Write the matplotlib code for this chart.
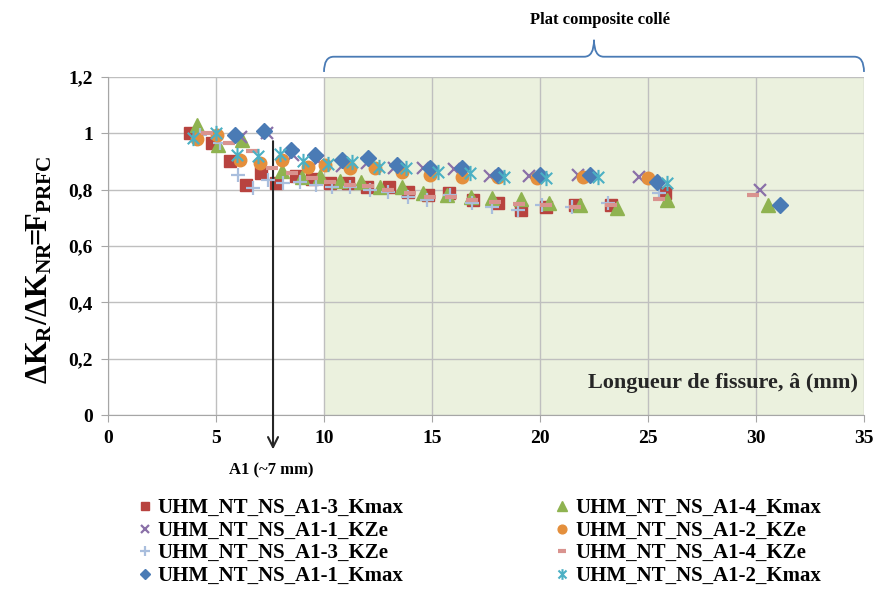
import numpy as np
import matplotlib
matplotlib.use('Agg')
import matplotlib.pyplot as plt
from matplotlib.path import Path
from matplotlib.patches import PathPatch
from matplotlib.ticker import FuncFormatter
import matplotlib.transforms as mtrans

plt.rcParams['font.family'] = 'Liberation Serif'
plt.rcParams['font.weight'] = 'bold'
plt.rcParams['mathtext.fontset'] = 'custom'
plt.rcParams['mathtext.rm'] = 'Liberation Serif:bold'
plt.rcParams['mathtext.bf'] = 'Liberation Serif:bold'
plt.rcParams['mathtext.it'] = 'Liberation Serif:bold'

#%% Series (crack length in mm, F_PRFC ratio)
a13_kmax_x = [3.8, 4.8, 5.65, 6.4, 7.1, 7.8, 8.7, 9.45, 10.3, 11.1, 12.0, 13.0, 13.9, 14.8, 15.8, 16.9, 18.05, 19.1, 20.3, 21.6, 23.3, 25.8]
a13_kmax_y = [1.0, 0.965, 0.9, 0.815, 0.86, 0.825, 0.85, 0.837, 0.823, 0.823, 0.81, 0.81, 0.79, 0.78, 0.787, 0.762, 0.752, 0.727, 0.74, 0.745, 0.745, 0.787]

a14_kmax_x = [4.1, 5.1, 6.2, 8.05, 9.0, 9.8, 10.75, 11.7, 12.6, 13.6, 14.6, 15.7, 16.8, 17.8, 19.1, 20.4, 21.85, 23.55, 25.9, 30.55]
a14_kmax_y = [1.03, 0.957, 0.975, 0.865, 0.845, 0.847, 0.83, 0.826, 0.81, 0.81, 0.787, 0.78, 0.773, 0.77, 0.766, 0.752, 0.745, 0.734, 0.762, 0.745]

a11_kze_x = [6.15, 7.35, 8.55, 9.7, 10.85, 12.0, 13.25, 14.6, 16.0, 17.7, 19.5, 21.75, 24.6, 30.2]
a11_kze_y = [0.986, 1.0, 0.922, 0.9, 0.883, 0.894, 0.876, 0.876, 0.872, 0.848, 0.848, 0.851, 0.844, 0.798]

a12_kze_x = [4.1, 5.05, 6.1, 7.05, 8.05, 9.25, 10.05, 11.2, 12.35, 13.6, 14.9, 16.4, 18.05, 19.85, 22.0, 25.0]
a12_kze_y = [0.98, 0.993, 0.904, 0.894, 0.904, 0.88, 0.887, 0.876, 0.876, 0.862, 0.851, 0.844, 0.844, 0.84, 0.844, 0.84]

a13_kze_x = [4.25, 5.2, 6.0, 6.7, 7.4, 8.1, 8.9, 9.65, 10.35, 11.2, 12.15, 12.95, 13.9, 14.75, 15.85, 16.85, 17.8, 19.0, 20.1, 21.5, 23.15, 25.5]
a13_kze_y = [0.993, 0.965, 0.851, 0.805, 0.833, 0.823, 0.826, 0.816, 0.809, 0.809, 0.798, 0.79, 0.773, 0.762, 0.78, 0.752, 0.738, 0.727, 0.745, 0.738, 0.752, 0.787]

a14_kze_x = [4.6, 5.6, 6.65, 7.6, 8.5, 9.45, 10.3, 11.2, 12.05, 12.95, 14.0, 14.9, 15.9, 16.85, 17.9, 19.05, 20.3, 21.6, 23.3, 25.5, 29.85]
a14_kze_y = [1.0, 0.965, 0.936, 0.876, 0.858, 0.84, 0.826, 0.816, 0.812, 0.8, 0.787, 0.773, 0.773, 0.762, 0.755, 0.748, 0.745, 0.74, 0.745, 0.766, 0.78]

a11_kmax_x = [5.9, 7.2, 8.45, 9.6, 10.85, 12.05, 13.4, 14.9, 16.4, 18.05, 20.0, 22.3, 25.4, 31.1]
a11_kmax_y = [0.993, 1.01, 0.94, 0.922, 0.904, 0.911, 0.887, 0.876, 0.876, 0.851, 0.851, 0.851, 0.826, 0.745]

a12_kmax_x = [3.95, 5.0, 5.95, 6.95, 7.95, 9.05, 10.2, 11.3, 12.55, 13.8, 15.3, 16.75, 18.35, 20.3, 22.7, 25.9]
a12_kmax_y = [0.982, 1.0, 0.922, 0.918, 0.925, 0.9, 0.89, 0.897, 0.88, 0.876, 0.862, 0.858, 0.844, 0.84, 0.844, 0.823]

x_ticks = [0, 5, 10, 15, 20, 25, 30, 35]
y_ticks = [0, 0.2, 0.4, 0.6, 0.8, 1.0, 1.2]
bonded_start, bonded_end = 10, 35
a1_pos = 7.64

#%% Star marker (vertical bar + X)
star = Path([(0, -1), (0, 1), (-0.75, -0.75), (0.75, 0.75), (-0.75, 0.75), (0.75, -0.75)],
            [Path.MOVETO, Path.LINETO, Path.MOVETO, Path.LINETO, Path.MOVETO, Path.LINETO])

fig = plt.figure(figsize=(8.92, 5.90), dpi=100)
ax = fig.add_axes([108/892, 1-415/590, (864-108)/892, (415-77)/590])

ax.axvspan(bonded_start, bonded_end, color='#EBF1DE', zorder=0, lw=0)

h = []
h += ax.plot(a13_kmax_x, a13_kmax_y, ls='none', marker='s', ms=9, color='#B8433F', mec='#B8433F', label='UHM_NT_NS_A1-3_Kmax')
h += ax.plot(a11_kze_x, a11_kze_y, ls='none', marker='x', ms=8.5, mew=1.6, color='#8A70A8', label='UHM_NT_NS_A1-1_KZe')
h += ax.plot(a13_kze_x, a13_kze_y, ls='none', marker='+', ms=10, mew=1.6, color='#A9BEDD', label='UHM_NT_NS_A1-3_KZe')
h += ax.plot(a11_kmax_x, a11_kmax_y, ls='none', marker='D', ms=8, color='#4A7BB5', mec='#4A7BB5', label='UHM_NT_NS_A1-1_Kmax')
h += ax.plot(a14_kmax_x, a14_kmax_y, ls='none', marker='^', ms=10, color='#8FB350', mec='#8FB350', label='UHM_NT_NS_A1-4_Kmax')
h += ax.plot(a12_kze_x, a12_kze_y, ls='none', marker='o', ms=9, color='#E48F3C', mec='#E48F3C', label='UHM_NT_NS_A1-2_KZe')
h += ax.plot(a14_kze_x, a14_kze_y, ls='none', marker='_', ms=8, mew=3, color='#D9938F', label='UHM_NT_NS_A1-4_KZe')
h += ax.plot(a12_kmax_x, a12_kmax_y, ls='none', marker=star, ms=11, mew=1.5, color='#4BB0C4', mfc='none', label='UHM_NT_NS_A1-2_Kmax')

# drawing order: squares, triangles, X, circles, plus, dash, diamonds, stars
for z, line in zip([3, 5, 6, 9, 4, 7, 8, 10], h):
    line.set_zorder(z)

ax.set_xlim(0, 35)
ax.set_ylim(0, 1.2)
ax.set_xticks(x_ticks)
ax.set_yticks(y_ticks)
ax.yaxis.set_major_formatter(FuncFormatter(lambda v, p: ('%g' % round(v, 1)).replace('.', ',')))
ax.grid(True, color='#BFBFBF', lw=1)
ax.set_axisbelow(True)
for s in ['top', 'right']:
    ax.spines[s].set_visible(False)
for s in ['left', 'bottom']:
    ax.spines[s].set_color('#A6A6A6')
ax.tick_params(direction='out', length=5, color='#A6A6A6', labelsize=14, pad=6)

fig.text(40/892, 1-270/590, r'$\Delta K_R/\Delta K_{NR}\!\!=\!\!F_{PRFC}$', rotation=90,
         ha='center', va='center', fontsize=22)

ax.text(34.7, 0.115, 'Longueur de fissure, â (mm)', ha='right', va='center', fontsize=16, color='#262626')

# brace over the bonded composite patch
trans = mtrans.blended_transform_factory(ax.transData, ax.transAxes)
mid = 0.5*(bonded_start + bonded_end)
y0, y1, y2 = 1.015, 1.06, 1.11
r = 0.45
verts = [(bonded_start, y0), (bonded_start, y1), (bonded_start + r, y1),
         (mid - r, y1), (mid, y1), (mid, y2),
         (mid, y1), (mid + r, y1),
         (bonded_end - r, y1), (bonded_end, y1), (bonded_end, y0)]
codes = [Path.MOVETO, Path.CURVE3, Path.CURVE3,
         Path.LINETO, Path.CURVE3, Path.CURVE3,
         Path.CURVE3, Path.CURVE3,
         Path.LINETO, Path.CURVE3, Path.CURVE3]
ax.add_patch(PathPatch(Path(verts, codes), transform=trans, fill=False,
                       ec='#4A7BB5', lw=1.3, clip_on=False))
ax.text(mid + 0.3, 1.17, 'Plat composite collé', transform=trans, ha='center', va='center', fontsize=12)

# A1 marker
ax.annotate('', xy=(a1_pos, -0.11), xycoords=trans, xytext=(a1_pos, 0.982), textcoords=('data', 'data'),
            arrowprops=dict(arrowstyle='->', color='#262626', lw=1.5, mutation_scale=18), annotation_clip=False)
ax.text(a1_pos - 0.1, -0.165, 'A1 (~7 mm)', transform=trans, ha='center', va='center', fontsize=12)

fig.legend(handles=h, loc='upper left', bbox_to_anchor=(130/892, 1-490/590), ncol=2, frameon=False,
           fontsize=15, markerscale=0.7, handlelength=0.6, handletextpad=0.3, labelspacing=0.12,
           columnspacing=7.35, borderaxespad=0)

fig.savefig('out.png', dpi=100)
